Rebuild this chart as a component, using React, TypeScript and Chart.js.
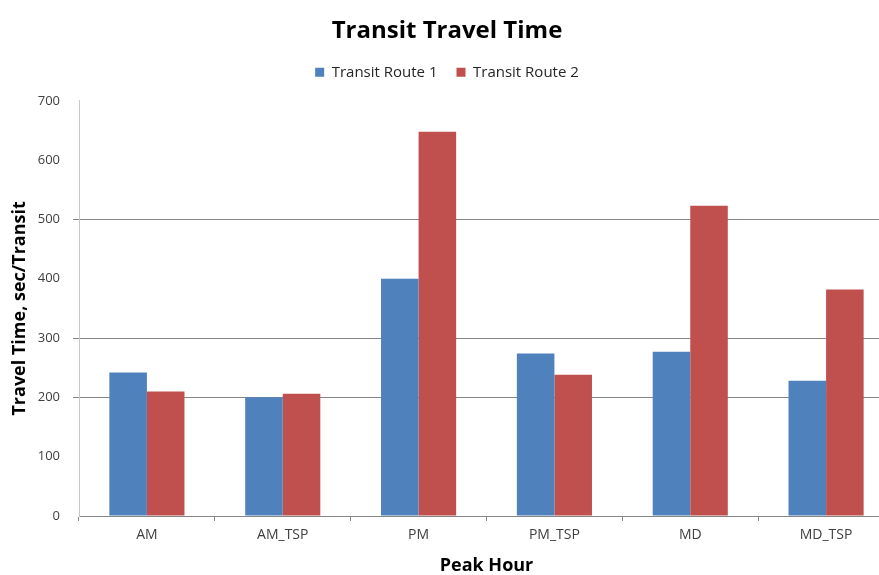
import React, { useEffect, useRef } from "react";
import { Chart, registerables } from "chart.js";

Chart.register(...registerables);

const categories = ["AM", "AM_TSP", "PM", "PM_TSP", "MD", "MD_TSP"];
const route1Values = [242, 200, 400, 274, 277, 228];
const route2Values = [210, 206, 648, 238, 523, 382];
const seriesNames = ["Transit Route 1", "Transit Route 2"];
const gridValues = [200, 300, 500];

const FONT = "'Open Sans', Lato, sans-serif";

const legendSpacer = {
  id: "legendSpacer",
  afterInit(chart: any) {
    const legend = chart.legend;
    if (!legend) return;
    const origFit = legend.fit;
    legend.fit = function () {
      origFit.call(this);
      this.height += 11;
    };
  },
};

export default function App() {
  const ref = useRef<HTMLCanvasElement | null>(null);

  useEffect(() => {
    if (!ref.current) return;
    const chart = new Chart(ref.current, {
      type: "bar",
      data: {
        labels: categories,
        datasets: [
          {
            label: seriesNames[0],
            data: route1Values,
            backgroundColor: "#4F81BD",
            borderWidth: 0,
          },
          {
            label: seriesNames[1],
            data: route2Values,
            backgroundColor: "#C0504D",
            borderWidth: 0,
          },
        ],
      },
      plugins: [legendSpacer],
      options: {
        responsive: false,
        animation: false,
        layout: { padding: 0 },
        datasets: {
          bar: { categoryPercentage: 0.553, barPercentage: 1 },
        },
        plugins: {
          title: {
            display: true,
            text: "Transit Travel Time",
            color: "#000000",
            font: { family: FONT, size: 24, weight: "bold" },
            padding: { top: 17, bottom: 0 },
          },
          legend: {
            display: true,
            position: "top",
            labels: {
              boxWidth: 9,
              boxHeight: 9,
              color: "#262626",
              font: { family: FONT, size: 15 },
              padding: 19,
            },
          },
          tooltip: { enabled: false },
        },
        scales: {
          x: {
            grid: {
              display: true,
              offset: true,
              drawOnChartArea: false,
              drawTicks: true,
              tickLength: 5,
              color: "#868686",
            },
            border: { display: true, color: "#868686", width: 1 },
            ticks: {
              color: "#404040",
              font: { family: FONT, size: 14 },
              padding: 6,
              maxRotation: 0,
            },
            title: {
              display: true,
              text: "Peak Hour",
              color: "#000000",
              font: { family: FONT, size: 18, weight: "bold", lineHeight: 1 },
              padding: { top: 0, bottom: 0 },
            },
            afterFit: (scale: any) => {
              scale.height = 59;
            },
          },
          y: {
            min: 0,
            max: 700,
            ticks: {
              stepSize: 100,
              color: "#404040",
              font: { family: FONT, size: 13 },
              padding: 13,
            },
            grid: {
              display: true,
              tickLength: 6,
              color: (ctx: any) =>
                ctx.tick && gridValues.includes(ctx.tick.value)
                  ? "#868686"
                  : "rgba(0,0,0,0)",
            },
            border: { display: true, color: "#c8c8c8", width: 1 },
            title: {
              display: true,
              text: "Travel Time, sec/Transit",
              color: "#000000",
              font: { family: FONT, size: 18, weight: "bold", lineHeight: 1 },
              padding: { top: 11, bottom: 0 },
            },
            afterFit: (scale: any) => {
              scale.width = 79;
            },
          },
        },
      },
    });
    return () => chart.destroy();
  }, []);

  return (
    <div
      style={{
        position: "fixed",
        left: 0,
        top: 0,
        width: 879,
        height: 575,
        overflow: "hidden",
        background: "#ffffff",
      }}
    >
      <canvas ref={ref} width={894} height={575} style={{ display: "block" }} />
    </div>
  );
}
